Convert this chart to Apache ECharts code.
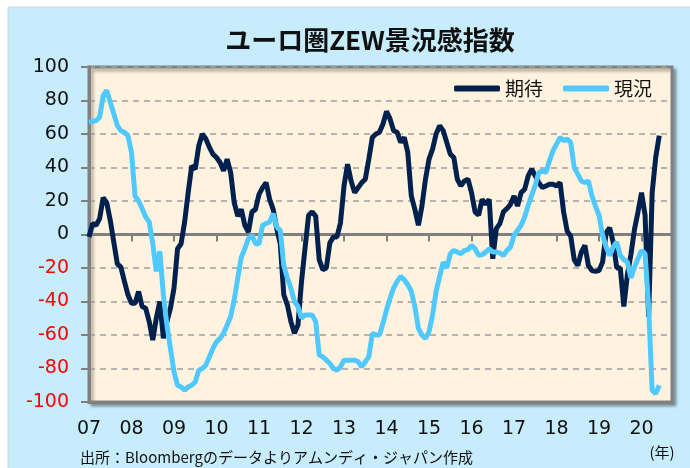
<!DOCTYPE html>
<html>
<head>
<meta charset="utf-8">
<script src="https://cdn.jsdelivr.net/npm/echarts@6/dist/echarts.min.js"></script>
<style>
html,body{margin:0;padding:0;background:#ffffff;}
#chart{width:690px;height:468px;}
</style>
</head>
<body>
<div id="chart"></div>
<script>
// Monthly data, Jan 2007 .. Jun 2020
var startYear = 2007;
var yearLabels = ['07','08','09','10','11','12','13','14','15','16','17','18','19','20'];
var seriesNames = ['期待', '現況'];
var expectations = [
  -1.5, 6.5, 5.5, 9.5, 22, 19, 8.5, -4.5, -17.5, -19.5, -28, -36,
  -41, -41, -34, -43, -44, -52, -63, -50, -40, -62, -52, -44,
  -32, -8.5, -5.5, 7.5, 25, 41, 39, 53, 60, 57, 52, 48,
  46, 43, 38, 45, 37, 19, 11, 15, 5.5, 1.5, 13.5, 15,
  24, 28, 31, 21, 15, 3.5, -5.5, -36, -42, -52, -59, -54,
  -28, -8, 11.5, 13.5, 11, -15, -21, -20, -5, -1.5, -1.5, 7,
  29, 42, 32, 25, 28, 31, 33, 45, 58, 60, 61, 66,
  73.5, 69, 62, 61, 55, 58, 49, 23, 15, 5.5, 17, 33,
  45, 51, 60, 65, 62, 55, 48, 46, 33, 29, 32, 33,
  25, 13.5, 11.5, 21, 18, 21, -14.5, 3.5, 6.5, 13.5, 15.5, 18,
  23, 17, 25, 27, 35, 39, 35, 31, 28, 29, 30, 30,
  29, 31, 13.5, 2, -1, -15, -18.5, -10.5, -6.5, -18.5, -21.5, -22,
  -21.5, -16.5, 1, 4, -4.5, -20, -20, -43, -24, -12, 3, 13.5,
  25, 11.5, -49, 25, 46, 59
];
var currentSituation = [
  67, 67.5, 68, 70, 83, 86, 79, 72, 65, 62, 61, 59,
  49, 23, 20, 15.5, 10.5, 7.5, -5.5, -22, -10, -36, -54, -68,
  -82, -90, -91, -93, -91, -90, -88, -81, -80, -78, -73, -68,
  -64, -62, -59, -54, -49, -39, -26, -13.5, -8.5, -2.5, -0.5, -5.5,
  -5.5, 5.5, 6.5, 7.5, 12.5, 4.5, 2.5, -18.5, -26, -32, -40, -43,
  -50, -48, -48, -48, -52, -72, -73, -75, -77, -80, -81, -79,
  -75, -75, -75, -75, -76, -79, -76, -73, -59, -60, -60, -53,
  -45, -38, -32, -28, -25, -27, -30, -34, -43, -56, -60, -62,
  -58, -48, -34, -25, -16.5, -20, -11.5, -9.5, -10.5, -11.5, -9.5, -9,
  -6.5, -8.5, -12.5, -12, -10.5, -8.5, -10.5, -10.5, -11, -12.5, -9.5, -7.5,
  -0.5, 2.5, 5.5, 10.5, 17.5, 23.5, 29.5, 37, 38, 37, 44, 50,
  54, 58, 56, 57, 55, 40, 36, 32, 31, 32, 23, 17,
  11.5, -0.5, -7.5, -12.5, -7.5, -4.5, -12.5, -15, -16.5, -26, -19.5, -14.5,
  -9.5, -11.5, -43, -93, -95, -90
];

function toPairs(arr){ return arr.map(function(v,i){ return [i, v]; }); }

var chart = echarts.init(document.getElementById('chart'), null, {renderer:'canvas'});
var numFont = 'DejaVu Sans';
var jpFont = '"Noto Sans CJK JP", "Noto Sans CJK SC", sans-serif';
var axisGrey = '#808080';

var option = {
  animation: false,
  backgroundColor: 'transparent',
  graphic: [
    {type:'rect', z:-10, shape:{x:8, y:7, width:690, height:470},
     style:{fill:'#C7ECFC', stroke:'#D4D4D4', lineWidth:1}},
    {type:'text', z:10, x:370, y:40,
     style:{text:'ユーロ圏ZEW景況感指数', font:'bold 26px ' + jpFont, fill:'#111', textAlign:'center', textVerticalAlign:'middle'}},
    {type:'text', z:10, x:80, y:457,
     style:{text:'出所：Bloombergのデータよりアムンディ・ジャパン作成', font:'15px ' + jpFont, fill:'#111', textAlign:'left', textVerticalAlign:'middle'}},
    {type:'text', z:10, x:662, y:452,
     style:{text:'(年)', font:'15px ' + jpFont, fill:'#111', textAlign:'center', textVerticalAlign:'middle'}}
  ],
  legend: {
    data: seriesNames,
    right: 33, top: 74,
    itemWidth: 46, itemHeight: 6, itemGap: 20,
    icon: 'roundRect',
    textStyle: {fontFamily: jpFont, fontSize: 19, color: '#111'}
  },
  grid: {
    left: 89, right: 18, top: 67, bottom: 66,
    show: true, backgroundColor: '#FFF3DF',
    borderColor: axisGrey, borderWidth: 3,
    shadowColor: 'rgba(0,0,0,0.3)', shadowBlur: 3, shadowOffsetX: 3, shadowOffsetY: 3
  },
  xAxis: [
    {
      type: 'value', position: 'bottom', min: 0, max: 164.6, interval: 12,
      axisLine: {onZero: false, lineStyle: {color: axisGrey, width: 3}},
      axisTick: {show: false},
      splitLine: {show: false},
      axisLabel: {
        margin: 18, fontFamily: numFont, fontSize: 19, color: '#111',
        formatter: function(v){ return (Math.abs(v % 12) < 0.001) ? yearLabels[Math.round(v/12)] : ''; }
      }
    },
    {
      type: 'value', position: 'top', min: 0, max: 164.6, interval: 12,
      axisLine: {show: true, onZero: true, onZeroAxisIndex: 0, lineStyle: {color: axisGrey, width: 3}},
      axisTick: {show: true, inside: true, length: 7, lineStyle: {color: axisGrey, width: 2}},
      axisLabel: {show: false},
      splitLine: {show: false}
    }
  ],
  yAxis: {
    type: 'value', min: -100, max: 100, interval: 20,
    axisLine: {show: true, onZero: false, lineStyle: {color: axisGrey, width: 3}},
    axisTick: {show: true, length: 8, lineStyle: {color: axisGrey, width: 2}},
    splitLine: {show: true, lineStyle: {color: '#A0A0A0', width: 1.5, type: [6, 5]}},
    axisLabel: {
      margin: 20, fontFamily: numFont, fontSize: 19,
      color: function(v){ return Number(v) < 0 ? '#FF0000' : '#111'; }
    }
  },
  series: [
    {name: seriesNames[0], type: 'line', data: toPairs(expectations), showSymbol: false,
     lineStyle: {color: '#00204E', width: 5}, itemStyle: {color: '#00204E'}, z: 3},
    {name: seriesNames[1], type: 'line', data: toPairs(currentSituation), showSymbol: false,
     lineStyle: {color: '#4FC9FF', width: 5}, itemStyle: {color: '#4FC9FF'}, z: 4}
  ]
};
chart.setOption(option);
</script>
</body>
</html>
